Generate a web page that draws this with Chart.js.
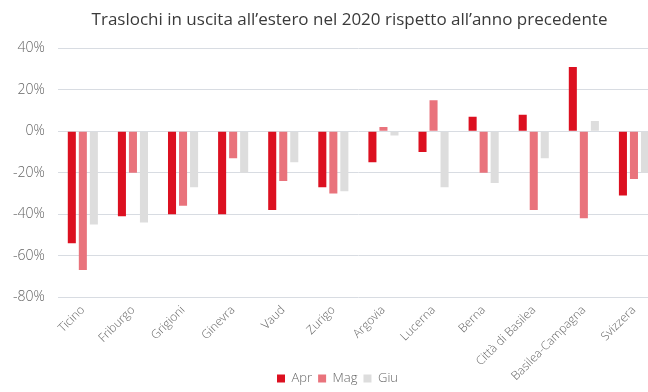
<!DOCTYPE html>
<html lang="it">
<head>
<meta charset="UTF-8">
<title>Traslochi in uscita</title>
<script src="https://cdn.jsdelivr.net/npm/chart.js"></script>
<style>
  body, html {
    margin: 0;
    padding: 0;
    background: #fff;
    overflow: hidden;
  }
  /* the plot runs a bit past the right edge, like the cropped original */
  .wrap {
    position: relative;
    width: 660px;
    height: 392px;
  }
</style>
</head>
<body>
<div class="wrap">
  <canvas id="myChart"></canvas>
</div>
<script>
// Dati (variazione % rispetto al 2019)
const cantoni = ['Ticino', 'Friburgo', 'Grigioni', 'Ginevra', 'Vaud', 'Zurigo', 'Argovia',
                 'Lucerna', 'Berna', 'Città di Basilea', 'Basilea-Campagna', 'Svizzera'];
const apr = [-54, -41, -40, -40, -38, -27, -15, -10, 7, 8, 31, -31];
const mag = [-67, -20, -36, -13, -24, -30, 2, 15, -20, -38, -42, -23];
const giu = [-45, -44, -27, -20, -15, -29, -2, -27, -25, -13, 5, -20];
const yTicks = [40, 20, 0, -20, -40, -60, -80];

// sposta titolo e legenda, e lascia scendere le etichette fino in fondo
const nudge = {
  id: 'nudge',
  afterLayout(chart) {
    const t = chart.titleBlock;
    t.left += 20; t.right += 20;
    const l = chart.legend;
    l.left += 8; l.right += 8;
    l.top += 3; l.bottom += 3;
    chart.scales.x.bottom = chart.height;
  }
};

const ctx = document.getElementById('myChart').getContext('2d');
const myChart = new Chart(ctx, {
  type: 'bar',
  data: {
    labels: cantoni,
    datasets: [
      { label: 'Apr', data: apr, backgroundColor: '#dc1020' },
      { label: 'Mag', data: mag, backgroundColor: '#e9737c' },
      { label: 'Giu', data: giu, backgroundColor: '#dddddd' }
    ]
  },
  options: {
    responsive: true,
    maintainAspectRatio: false,
    animation: false,
    layout: { padding: { left: 0, right: 1, top: 10, bottom: 0 } },
    datasets: {
      bar: { categoryPercentage: 0.66, barPercentage: 0.73 }
    },
    plugins: {
      title: {
        display: true,
        text: 'Traslochi in uscita all\u2019estero nel 2020 rispetto all\u2019anno precedente',
        color: '#3a3a3a',
        font: { family: 'Open Sans', size: 17, weight: 'normal' },
        padding: { top: 0, bottom: 18 }
      },
      legend: {
        position: 'bottom',
        labels: {
          boxWidth: 8,
          boxHeight: 8,
          padding: 6,
          color: '#666',
          font: { family: 'Open Sans', size: 13, weight: '300' }
        }
      },
      tooltip: { enabled: false }
    },
    scales: {
      y: {
        min: -80,
        max: 40,
        afterBuildTicks(scale) {
          scale.ticks = yTicks.map(v => ({ value: v }));
        },
        border: { display: false },
        grid: { color: '#d8dce2', drawTicks: false },
        ticks: {
          padding: 13,
          color: '#666',
          font: { family: 'Open Sans', size: 14, weight: '300' },
          callback: v => v + '%'
        }
      },
      x: {
        border: { display: false },
        grid: { display: false },
        afterFit(scale) { scale.height = 66; },
        ticks: {
          minRotation: 45,
          maxRotation: 45,
          autoSkip: false,
          labelOffset: 0,
          padding: -2,
          color: '#666',
          font: { family: 'Open Sans', size: 12, weight: '300' }
        }
      }
    }
  },
  plugins: [nudge]
});
</script>
</body>
</html>
